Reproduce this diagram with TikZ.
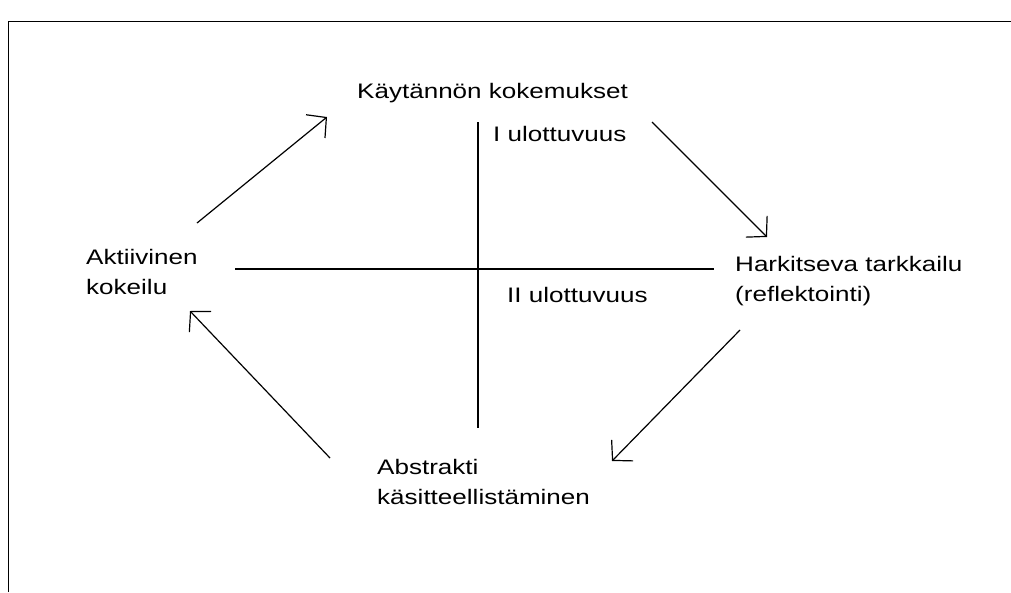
\documentclass[tikz,border=0pt]{standalone}
\usepackage{fontspec}
\setmainfont{Liberation Sans}[FakeStretch=1.24]
\usetikzlibrary{arrows.meta}
\begin{document}
\begin{tikzpicture}[x=1pt,y=-1pt,
    lbl/.style={inner sep=0pt,anchor=base west,align=left,
      font=\fontsize{21}{30}\selectfont},
    pil/.style={line width=1.2pt,-{Straight Barb[length=14pt,width=30pt,line width=1.2pt]}}]
  \useasboundingbox (0,0) rectangle (1011,592);
  \draw[line width=1pt] (8,592) -- (8,21) -- (1011,21);
  % texts (multi-line ones sit on their last line)
  \node[lbl] (kay) at (357,98) {Käytännön kokemukset};
  \node[lbl] (akt) at (86,294) {Aktiivinen\\kokeilu};
  \node[lbl] (har) at (735,301) {Harkitseva tarkkailu\\(reflektointi)};
  \node[lbl] (abs) at (377,504) {Abstrakti\\käsitteellistäminen};
  \node[lbl] (u1) at (493,141) {I ulottuvuus};
  \node[lbl] (u2) at (507,302) {II ulottuvuus};
  % axes
  \coordinate (vt) at (478,122);
  \coordinate (vb) at (478,428);
  \coordinate (hl) at (235,269);
  \coordinate (hr) at (714,269);
  \begin{scope}[line width=1.5pt]
    \draw (vt) -- (vb);
    \draw (hl) -- (hr);
  \end{scope}
  % cycle arrows
  \coordinate (a1) at (197,223);
  \coordinate (b1) at (327,117);
  \coordinate (a2) at (652,122);
  \coordinate (b2) at (767,237);
  \coordinate (a3) at (740,330);
  \coordinate (b3) at (612,461);
  \coordinate (a4) at (330,458);
  \coordinate (b4) at (190,311);
  \draw[pil] (a1) -- (b1);
  \draw[pil] (a2) -- (b2);
  \draw[pil] (a3) -- (b3);
  \draw[pil] (a4) -- (b4);
\end{tikzpicture}
\end{document}
